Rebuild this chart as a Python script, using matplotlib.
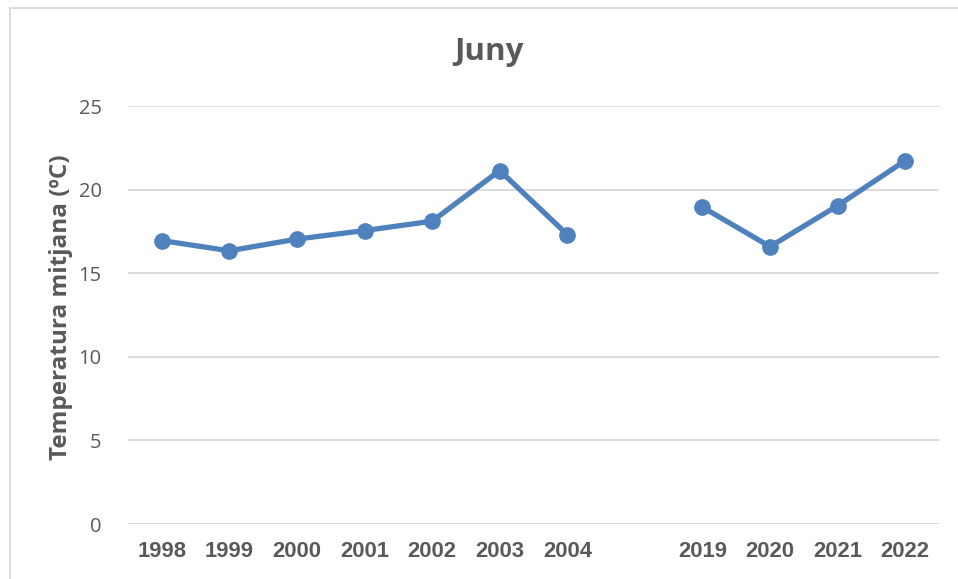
import matplotlib
matplotlib.use("Agg")
import matplotlib.pyplot as plt
import numpy as np
from matplotlib.lines import Line2D

categories = ["1998", "1999", "2000", "2001", "2002", "2003", "2004", "", "2019", "2020", "2021", "2022"]
temps = [16.95, 16.34, 17.04, 17.55, 18.11, 21.14, 17.31, np.nan, 18.95, 16.59, 19.04, 21.73]
yticks = [0, 5, 10, 15, 20, 25]

W, H = 958, 579
fig = plt.figure(figsize=(W / 100, H / 100), dpi=100)
ax = fig.add_axes([128 / W, 1 - 524 / H, (939 - 128) / W, (524 - 106) / H])

x = np.arange(len(categories))
ax.plot(x, temps, color="#4F81BD", lw=3.8, marker="o", markersize=11,
        solid_capstyle="round", zorder=3)

ax.set_xlim(-0.5, len(categories) - 0.5)
ax.set_ylim(0, 25)
ax.set_yticks(yticks)
ax.set_xticks(x)
ax.set_xticklabels(categories, fontsize=15.8, fontweight="bold", color="#595959",
                   family="Liberation Sans")
ax.set_yticklabels([str(v) for v in yticks], fontsize=14.5, color="#595959",
                   family="Open Sans")
ax.tick_params(axis="both", length=0)
ax.tick_params(axis="y", pad=19)
ax.tick_params(axis="x", pad=12)
ax.grid(axis="y", color="#D9D9D9", lw=1.3, zorder=0)
for s in ax.spines.values():
    s.set_visible(False)

ax.set_ylabel("Temperatura mitjana (ºC)", fontsize=17.5, fontweight="bold",
              color="#595959", family="Open Sans")
ax.yaxis.set_label_coords((73 - 128) / (939 - 128), (524 - 307) / (524 - 106))

fig.text(489 / W, 1 - 52 / H, "Juny", ha="center", va="center", fontsize=22.5,
         fontweight="bold", color="#595959", family="Open Sans")

# outer chart border (left and top visible)
fig.add_artist(Line2D([9.5 / W, 9.5 / W], [0, 1 - 7.5 / H], transform=fig.transFigure,
                      color="#D9D9D9", lw=1.3))
fig.add_artist(Line2D([9.5 / W, 1], [1 - 7.5 / H, 1 - 7.5 / H], transform=fig.transFigure,
                      color="#D9D9D9", lw=1.3))

fig.savefig("out.png", dpi=100)
